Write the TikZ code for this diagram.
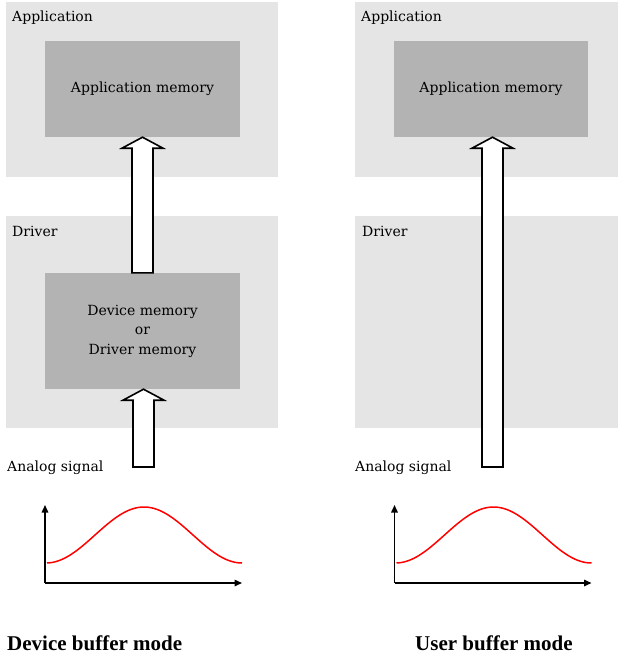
\documentclass[tikz,border=0pt]{standalone}
\usepackage{fontspec}
\usepackage{tikz}
\usetikzlibrary{arrows.meta,calc}
\newfontfamily\lblfont{DejaVu Serif}
\newfontfamily\titlefont{Liberation Serif}
\definecolor{layergrey}{RGB}{229,229,229}
\definecolor{memgrey}{RGB}{179,179,179}
\newcommand{\fatarrow}[2]{%
  \draw[fatarr] let \p1=(#1), \p2=(#2) in
    (\x1-10.5pt,\y1) -- (\x1-10.5pt,\y2-11pt) -- (\x1-20.5pt,\y2-11pt) -- (\x1,\y2)
    -- (\x1+20.5pt,\y2-11pt) -- (\x1+10.5pt,\y2-11pt) -- (\x1+10.5pt,\y1) -- cycle;}

\begin{document}
\begin{tikzpicture}[x=1pt, y=-1pt,
    layer/.style={rectangle, fill=layergrey, inner sep=0pt},
    mem/.style={rectangle, fill=memgrey, inner sep=0pt, align=center,
                font=\lblfont\fontsize{14}{19.5}\selectfont},
    lbl/.style={anchor=base west, inner sep=0pt, font=\lblfont\fontsize{14}{17}\selectfont},
    title/.style={anchor=base west, inner sep=0pt, font=\titlefont\bfseries\fontsize{21}{25}\selectfont},
    fatarr/.style={draw=black, fill=white, line width=1.6pt, line join=miter},
    axis/.style={-{Triangle[length=7.5pt,width=6.5pt]}, line width=1.5pt},
    signal/.style={red, line width=1.5pt}
]
\useasboundingbox (0,0) rectangle (618,654);

\node[layer, minimum width=272pt, minimum height=175pt] (appL) at (142,89.5) {};
\node[layer, minimum width=272pt, minimum height=212pt] (drvL) at (142,322) {};
\node[mem, minimum width=195pt, minimum height=96pt] (appmemL) at (142.5,89) {Application memory};
\node[mem, minimum width=195pt, minimum height=116pt] (devmemL) at (142.5,331)
      {Device memory\\or\\Driver memory};
\node[lbl] (appLtxt) at (12,21) {Application};
\node[lbl] (drvLtxt) at (12,236) {Driver};
\node[lbl] (sigLtxt) at (7,471) {Analog signal};
\coordinate (sigL) at (143.5,467);

\node[layer, minimum width=263pt, minimum height=175pt] (appR) at (486.5,89.5) {};
\node[layer, minimum width=263pt, minimum height=212pt] (drvR) at (486.5,322) {};
\node[mem, minimum width=194pt, minimum height=96pt] (appmemR) at (491,89) {Application memory};
\node[lbl] (appRtxt) at (361,21) {Application};
\node[lbl] (drvRtxt) at (362,236) {Driver};
\node[lbl] (sigRtxt) at (355,471) {Analog signal};
\coordinate (sigR) at (492.5,467);

\fatarrow{devmemL.north}{appmemL.south}
\fatarrow{sigL}{devmemL.south}
\fatarrow{sigR}{appmemR.south}

\foreach \dx/\s in {0/L, 349.5/R} {
  \begin{scope}[xshift=\dx pt]
    \coordinate (o\s) at (45,583);
    \draw[axis] (o\s) -- ++(0,-78);
    \draw[axis] (o\s) -- ++(197,0);
    \draw[signal] plot[domain=47:242, samples=80]
      (\x, {563-28*(1-cos(1.8367*(\x-46)))});
  \end{scope}
}

\node[title] (titleL) at (7,650) {Device buffer mode};
\node[title] (titleR) at (415,650) {User buffer mode};
\end{tikzpicture}
\end{document}
